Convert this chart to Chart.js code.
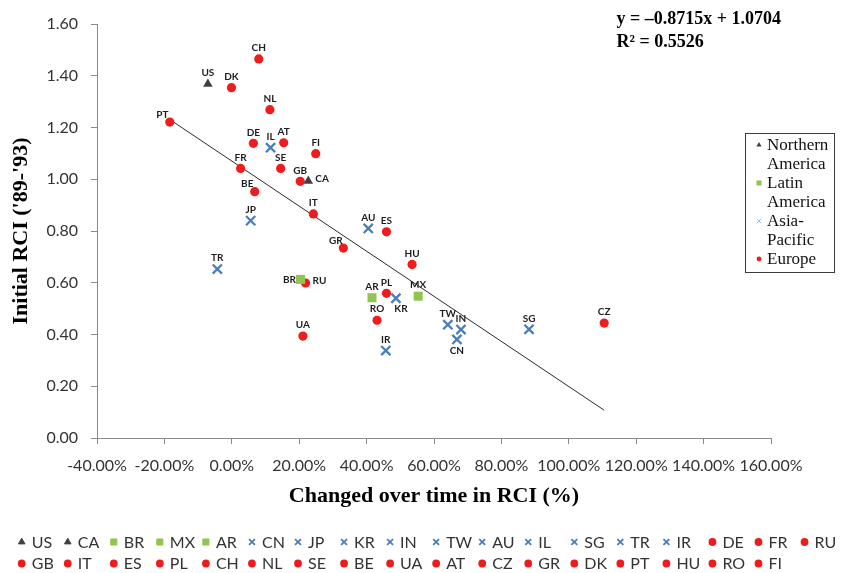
<!DOCTYPE html>
<html>
<head>
<meta charset="utf-8">
<title>Initial RCI vs change in RCI</title>
<script src="https://cdn.jsdelivr.net/npm/chart.js@4.4.1/dist/chart.umd.min.js"></script>
<style>
  html, body { margin: 0; padding: 0; background: #fff; }
  #wrap { width: 842px; height: 573px; position: relative; }
</style>
</head>
<body>
<div id="wrap"><canvas id="c" width="842" height="573"></canvas></div>
<script>
// Country codes, in legend order
const countries = ['US','CA','BR','MX','AR','CN','JP','KR','IN','TW','AU','IL','SG','TR','IR',
  'DE','FR','RU','GB','IT','ES','PL','CH','NL','SE','BE','UA','AT','CZ','GR','DK','PT','HU','RO','FI'];

// Region of each country
const regions = ['Northern America','Northern America',
  'Latin America','Latin America','Latin America',
  'Asia-Pacific','Asia-Pacific','Asia-Pacific','Asia-Pacific','Asia-Pacific',
  'Asia-Pacific','Asia-Pacific','Asia-Pacific','Asia-Pacific','Asia-Pacific',
  'Europe','Europe','Europe','Europe','Europe','Europe','Europe','Europe','Europe','Europe',
  'Europe','Europe','Europe','Europe','Europe','Europe','Europe','Europe','Europe','Europe'];

// Change over time in RCI (fraction, shown as %)
const changeRCI = [-0.071, 0.227, 0.204, 0.553, 0.416, 0.668, 0.056, 0.487, 0.680, 0.641,
  0.405, 0.115, 0.882, -0.043, 0.457, 0.064, 0.026, 0.219, 0.203, 0.242,
  0.459, 0.459, 0.080, 0.113, 0.145, 0.068, 0.211, 0.154, 1.105, 0.331,
  -0.001, -0.184, 0.535, 0.431, 0.249];

// Initial RCI ('89-'93)
const initialRCI = [1.368, 0.993, 0.613, 0.548, 0.542, 0.381, 0.840, 0.540, 0.419, 0.438,
  0.810, 1.122, 0.420, 0.653, 0.338, 1.139, 1.042, 0.599, 0.992, 0.866,
  0.797, 0.559, 1.465, 1.269, 1.042, 0.952, 0.394, 1.141, 0.444, 0.734,
  1.354, 1.221, 0.671, 0.455, 1.099];

// Linear fit reported on the chart
const trendSlope = -0.8715;
const trendIntercept = 1.0704;
const trendR2 = 0.5526;

// Region legend entries (wrapped lines)
const regionNames = ['Northern America', 'Latin America', 'Asia-Pacific', 'Europe'];
const regionLines = [['Northern', 'America'], ['Latin', 'America'], ['Asia-', 'Pacific'], ['Europe']];

// Marker style per region
const regionStyle = {
  'Northern America': { shape: 'triangle', color: '#404040', radius: 5.5, border: 0 },
  'Latin America':    { shape: 'rect',     color: '#92c54f', radius: 6.4, border: 0 },
  'Asia-Pacific':     { shape: 'crossRot', color: '#4a7ebb', radius: 6.5, border: 2.3 },
  'Europe':           { shape: 'circle',   color: '#ee1c1c', radius: 4.6, border: 0 }
};

// Where each point's code is written relative to its marker (default: above)
const labelPlacement = { PT: 'topLeft', BE: 'topLeft', GR: 'topLeft', CA: 'right', RU: 'right',
  BR: 'left', KR: 'bottomRight', CN: 'bottom' };
const placementOffsets = {
  top:         { dx: 0,    dy: -11,  align: 'center' },
  bottom:      { dx: 0,    dy: 11.5, align: 'center' },
  topLeft:     { dx: -7.5, dy: -7.5, align: 'center' },
  right:       { dx: 7,    dy: -2,   align: 'left' },
  left:        { dx: -4.5, dy: 0,    align: 'right' },
  bottomRight: { dx: 5,    dy: 10.5, align: 'center' }
};

const pointDatasets = countries.map((code, i) => {
  const st = regionStyle[regions[i]];
  return {
    label: code,
    data: [{ x: changeRCI[i], y: initialRCI[i] }],
    pointStyle: st.shape,
    pointRadius: st.radius,
    pointHoverRadius: st.radius,
    pointBorderWidth: st.border,
    backgroundColor: st.color,
    borderColor: st.color,
    order: 0
  };
});

const xMin = Math.min(...changeRCI);
const xMax = Math.max(...changeRCI);
const trendDataset = {
  label: 'trend',
  type: 'line',
  data: [xMin, xMax].map(x => ({ x: x, y: trendSlope * x + trendIntercept })),
  borderColor: '#2a2a2a',
  borderWidth: 1,
  pointRadius: 0,
  showLine: true,
  fill: false,
  order: 1
};

// Point codes, bottom legend grid, region legend box and fit equation
const annotations = {
  id: 'annotations',
  afterDatasetsDraw(chart) {
    const ctx = chart.ctx;
    ctx.save();
    ctx.font = 'bold 10px Lato';
    ctx.fillStyle = '#1e1e1e';
    ctx.textBaseline = 'middle';
    countries.forEach((code, i) => {
      const el = chart.getDatasetMeta(i).data[0];
      const p = placementOffsets[labelPlacement[code] || 'top'];
      ctx.textAlign = p.align;
      ctx.fillText(code, el.x + p.dx, el.y + p.dy);
    });
    ctx.restore();
  },
  afterDraw(chart) {
    const ctx = chart.ctx;
    const h = Chart.helpers;
    ctx.save();

    // Bottom legend: two rows on a fixed column grid
    const perRow = 18, colW = 46.05, x0 = 21.7, rowY = [542, 563.5];
    ctx.font = '16px Lato';
    ctx.textBaseline = 'middle';
    ctx.textAlign = 'left';
    countries.forEach((code, i) => {
      const st = regionStyle[regions[i]];
      const row = Math.floor(i / perRow), col = i % perRow;
      const mx = x0 + col * colW, my = rowY[row];
      ctx.fillStyle = st.color;
      ctx.strokeStyle = st.color;
      ctx.lineWidth = st.shape === 'crossRot' ? 1.8 : 0;
      const r = st.shape === 'rect' ? 4.3 : st.shape === 'crossRot' ? 4.2 : st.shape === 'triangle' ? 3.8 : 3;
      h.drawPoint(ctx, { pointStyle: st.shape, radius: r, rotation: 0, borderWidth: ctx.lineWidth }, mx, my);
      ctx.fillStyle = '#333';
      ctx.fillText(code, mx + 10, my + 0.5);
    });

    // Region legend box
    const bx = 745, by = 133, bw = 89, bh = 139;
    ctx.strokeStyle = '#3c3c3c';
    ctx.lineWidth = 1;
    ctx.strokeRect(bx + 0.5, by + 0.5, bw, bh);
    ctx.font = '17px "Liberation Serif"';
    ctx.fillStyle = '#111';
    let ly = 145;
    regionNames.forEach((name, k) => {
      const st = regionStyle[name];
      ctx.fillStyle = st.color;
      ctx.strokeStyle = name === 'Asia-Pacific' ? '#9cc1e8' : st.color;
      const r = st.shape === 'rect' ? 3.6 : st.shape === 'crossRot' ? 3.2 : st.shape === 'triangle' ? 3 : 2.4;
      h.drawPoint(ctx, { pointStyle: st.shape, radius: r, rotation: 0, borderWidth: st.shape === 'crossRot' ? 1 : 0 }, 759, ly);
      ctx.fillStyle = '#111';
      regionLines[k].forEach(line => {
        ctx.fillText(line, 767, ly + 0.5);
        ly += 19;
      });
    });

    // Fit equation, right end at x = 781, both lines left-aligned
    ctx.font = 'bold 18px "Liberation Serif"';
    ctx.fillStyle = '#000';
    const eq = 'y = \u2013' + Math.abs(trendSlope).toFixed(4) + 'x + ' + trendIntercept.toFixed(4);
    const ex = 781 - ctx.measureText(eq).width;
    ctx.fillText(eq, ex, 19);
    ctx.fillText('R\u00b2 = ' + trendR2.toFixed(4), ex, 42);
    ctx.restore();
  }
};

const axisGray = '#8a8a8a';
new Chart(document.getElementById('c'), {
  type: 'scatter',
  data: { datasets: [...pointDatasets, trendDataset] },
  options: {
    responsive: false,
    animation: false,
    events: [],
    layout: { padding: { left: 0, right: 71, top: 24, bottom: 45 } },
    plugins: { legend: { display: false }, tooltip: { enabled: false } },
    scales: {
      x: {
        type: 'linear', min: -0.4, max: 1.6,
        ticks: {
          stepSize: 0.2, autoSkip: false, maxRotation: 0, padding: 12,
          color: '#333', font: { family: 'Lato', size: 16 },
          callback: v => (Math.abs(v) < 1e-9 ? 0 : v * 100).toFixed(2) + '%'
        },
        grid: { drawOnChartArea: false, drawTicks: true, tickLength: 6, color: axisGray },
        border: { display: true, color: axisGray },
        title: {
          display: true, text: 'Changed over time in RCI (%)', color: '#000',
          font: { family: 'Liberation Serif', size: 22, weight: 'bold' },
          padding: { top: 0, bottom: 18 }
        },
        afterFit: s => { s.height = 90; }
      },
      y: {
        type: 'linear', min: 0, max: 1.6,
        ticks: {
          stepSize: 0.2, padding: 13, color: '#333', font: { family: 'Lato', size: 16 },
          callback: v => v.toFixed(2)
        },
        grid: { drawOnChartArea: false, drawTicks: true, tickLength: 6, color: axisGray },
        border: { display: true, color: axisGray },
        title: {
          display: true, text: "Initial RCI ('89-'93)", color: '#000',
          font: { family: 'Liberation Serif', size: 22, weight: 'bold' },
          padding: { top: 8, bottom: 0 }
        },
        afterFit: s => { s.width = 97; }
      }
    }
  },
  plugins: [annotations]
});
</script>
</body>
</html>
